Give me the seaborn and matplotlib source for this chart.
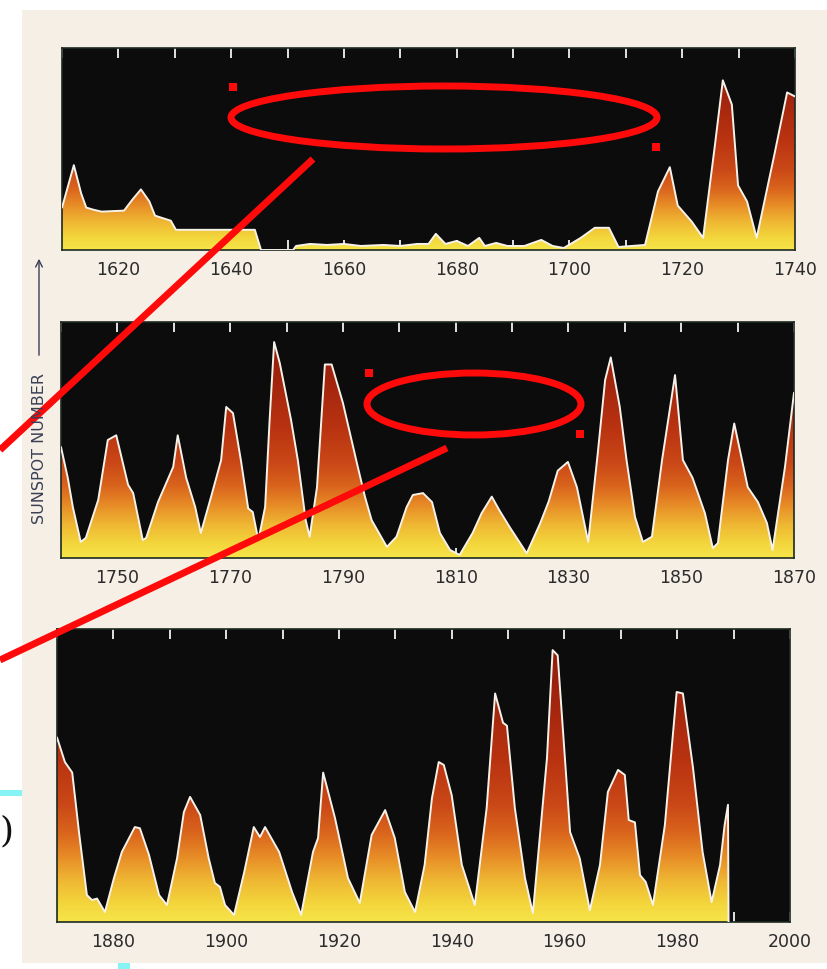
import numpy as np
import matplotlib
matplotlib.use('Agg')
import matplotlib.pyplot as plt
import seaborn as sns
from matplotlib.colors import LinearSegmentedColormap
from matplotlib.patches import Ellipse, Rectangle, FancyArrowPatch, Polygon

sns.set_theme(style='dark')
plt.rcParams['font.family'] = ['DejaVu Sans']

# Valeurs : hauteur de la courbe en % de la hauteur du panneau
years_1 = [1610, 1611.2, 1612.1, 1613.4, 1614.3, 1615.5, 1617, 1621, 1622.5, 1624,
           1625.5, 1626.5, 1629.3, 1630.2, 1644.2, 1645.3, 1651, 1651.5, 1654, 1657,
           1660, 1663, 1667, 1670, 1673, 1675, 1676.3, 1678, 1680, 1682,
           1684, 1685, 1687, 1689, 1692, 1695, 1697, 1699, 1702, 1704.5,
           1707, 1708.7, 1713.4, 1715.7, 1717.8, 1719.2, 1721.7, 1723.7, 1725.8, 1727.2,
           1728.8, 1729.9, 1731.5, 1733.2, 1736.4, 1738.6, 1740]
spots_1 = [21, 33, 42, 28, 21, 20, 19, 19.5, 25, 30,
           24, 17, 14.5, 10, 10, 0, 0, 2, 3, 2.5,
           3, 2, 2.5, 2, 3, 3, 8, 3, 4.5, 2,
           6, 2, 3.5, 2, 2, 5, 2, 1, 6, 11,
           11, 1.5, 2.5, 29, 41, 22, 14, 6, 52, 84,
           72, 32, 24, 6, 48, 78, 76]

years_2 = [1740, 1741.2, 1742.1, 1743.5, 1744.4, 1746.6, 1748.3, 1749.8, 1751, 1751.9,
           1752.8, 1754.5, 1755.1, 1757.2, 1759.9, 1760.7, 1762.2, 1763.8, 1764.8, 1766.6,
           1768.4, 1769.3, 1770.5, 1771.9, 1773.2, 1774, 1775, 1776.2, 1777, 1777.8,
           1778.8, 1780.8, 1782, 1783.4, 1784.1, 1785.4, 1786.8, 1788, 1790, 1792.5,
           1793.9, 1795.1, 1797.8, 1799.5, 1801.3, 1802.4, 1804.2, 1805.8, 1807.2, 1809,
           1810.7, 1813, 1814.6, 1816.4, 1817.8, 1819.6, 1822.6, 1825, 1826.5, 1828.1,
           1829.9, 1831.5, 1833.5, 1835.2, 1836.5, 1837.5, 1839.1, 1840.3, 1841.8, 1843.2,
           1844.8, 1846.6, 1848.9, 1850.3, 1852, 1854.2, 1855.6, 1856.5, 1858.3, 1859.4,
           1861.8, 1863.6, 1865.2, 1866.2, 1868.4, 1870]
spots_2 = [47, 34, 21.6, 6.8, 8.5, 24.6, 50, 52, 40, 31,
           27.5, 7.6, 8.5, 23.7, 38.6, 52, 34, 21.6, 10.6, 25.8,
           41.5, 64, 61.4, 41.5, 21, 19.5, 7.6, 21.6, 58.5, 91.5,
           82.6, 58.5, 41.5, 16, 9, 30, 82, 82, 65.7, 40,
           26, 16, 4.7, 9, 21.6, 26.7, 27.5, 23.7, 10.6, 3.4,
           1.3, 10.6, 19, 26, 20, 13, 2, 14.8, 24, 37,
           40.7, 30, 6.8, 44.5, 75.4, 85, 64, 41.5, 17.4, 6.8,
           9, 41.5, 77.5, 41.5, 34, 19, 4.2, 6.3, 41.5, 57,
           30, 23.7, 14.8, 3.4, 38.6, 70]

years_3 = [1870, 1871.4, 1872.7, 1873.9, 1875.3, 1876.2, 1877.1, 1878.5, 1880.1, 1881.5,
           1883.8, 1884.7, 1886.3, 1888.1, 1889.5, 1891.3, 1892.5, 1893.6, 1895.4, 1896.9,
           1898, 1898.9, 1899.8, 1901.4, 1903.2, 1904.9, 1906, 1906.9, 1909.4, 1911.7,
           1913.3, 1915.4, 1916.3, 1917.2, 1919.3, 1921.6, 1923.7, 1925.8, 1928.2, 1929.9,
           1931.7, 1933.5, 1935.2, 1936.5, 1937.7, 1938.6, 1940, 1941.8, 1944.1, 1946.2,
           1947.7, 1949.1, 1949.8, 1951.2, 1953, 1954.4, 1956.9, 1957.9, 1958.8, 1961,
           1962.7, 1964.5, 1966.3, 1967.7, 1969.5, 1970.7, 1971.4, 1972.5, 1973.4, 1974.4,
           1975.7, 1977.8, 1979.9, 1981, 1982.8, 1984.5, 1986.1, 1987.6, 1988.4, 1989,
           1989.1]
spots_3 = [63, 54.6, 51, 30.7, 9.2, 7.5, 8, 3.4, 15, 23.9,
           32.4, 32, 23, 9.2, 5.8, 21.8, 37.5, 42.7, 36.5, 21.8,
           13.3, 12, 5.8, 2.4, 17, 32.4, 29, 32.4, 23.9, 10.2,
           2.4, 23.9, 28.7, 51, 35.5, 15, 6.5, 29.7, 38.2, 28.7,
           10.2, 3.4, 19.5, 42.3, 54.6, 53.6, 43.3, 19.5, 5.8, 38.9,
           78, 68, 67, 38.9, 15, 3, 56, 92.8, 91, 30.7,
           21.8, 4, 19.5, 44.4, 51.9, 50.2, 34.8, 34, 16, 13.7,
           5.8, 33, 78.5, 78, 52.6, 23.9, 6.8, 19.5, 33, 40,
           0]

panels = [
    (years_1, spots_1, (1610, 1740), 1620),
    (years_2, spots_2, (1740, 1870), 1750),
    (years_3, spots_3, (1870, 2000), 1880),
]

W, H = 828, 969
# position des panneaux en pixels : gauche, haut, droite, bas
boxes = [(62, 48, 795, 250), (61, 322, 794, 558), (57, 629, 790, 922)]

flame = LinearSegmentedColormap.from_list('flame', [
    (0.00, '#f6e54a'), (0.06, '#f3d63c'), (0.14, '#efb733'), (0.22, '#e78d27'),
    (0.30, '#da661d'), (0.40, '#ca4817'), (0.55, '#b93311'), (0.75, '#a3250e'),
    (1.00, '#8a1a0c')])

fig = plt.figure(figsize=(W / 100, H / 100), dpi=100, facecolor='#f5efe5')

# fond : bandes blanches et bouts de cyan de la diapo
bg = fig.add_axes([0, 0, 1, 1], zorder=-10)
bg.set_xlim(0, W)
bg.set_ylim(H, 0)
bg.axis('off')
bg.add_patch(Rectangle((0, 0), 22, H, color='white', lw=0))
bg.add_patch(Rectangle((0, 0), W, 10, color='white', lw=0))
bg.add_patch(Rectangle((0, 963), W, 6, color='white', lw=0))
bg.add_patch(Rectangle((0, 790), 22, 6, color='#86f4f4', lw=0))
bg.add_patch(Rectangle((118, 963), 12, 6, color='#86f4f4', lw=0))
bg.text(7, 831, ')', ha='center', va='center', fontsize=26, color='#111111',
        family='DejaVu Serif')

for (yrs, vals, (x0, x1), lab0), (l, t, r, b) in zip(panels, boxes):
    ax = fig.add_axes([l / W, 1 - b / H, (r - l) / W, (b - t) / H])
    ax.set_facecolor('#0b0c0b')
    ax.set_xlim(x0, x1)
    ax.set_ylim(0, 100)

    # dégradé jaune -> rouge découpé sous la courbe
    grad = np.linspace(0, 1, 256).reshape(-1, 1)
    im = ax.imshow(grad, cmap=flame, origin='lower', aspect='auto',
                   extent=[x0, x1, 0, 100], zorder=1, interpolation='bilinear')
    verts = [(yrs[0], 0)] + list(zip(yrs, vals)) + [(yrs[-1], 0)]
    clip = Polygon(verts, closed=True, transform=ax.transData, facecolor='none', edgecolor='none')
    ax.add_patch(clip)
    im.set_clip_path(clip)

    sns.lineplot(x=yrs, y=vals, ax=ax, color='#f6f2ea', lw=1.4, sort=False,
                 estimator=None, zorder=3)

    ticks = list(range(x0, x1 + 1, 10))
    ax.set_xticks(ticks)
    ax.set_xticklabels([str(tk) if (tk - lab0) % 20 == 0 else '' for tk in ticks])
    ax.set_yticks([])
    ax.tick_params(axis='x', which='both', direction='in', top=True, bottom=True,
                   length=7, width=1.3, color='#f2f2f2', labelcolor='#2b2b2b',
                   labelsize=12.5, pad=8)
    ax.grid(False)
    ax.set_xlabel('')
    ax.set_ylabel('')
    for sp in ax.spines.values():
        sp.set_color('#1d2a20')
        sp.set_linewidth(1.2)

# annotations rouges et titre de l'axe y
ov = fig.add_axes([0, 0, 1, 1], zorder=10)
ov.set_xlim(0, W)
ov.set_ylim(H, 0)
ov.axis('off')
ov.patch.set_alpha(0)

ov.text(40, 449, 'SUNSPOT NUMBER', rotation=90, ha='center', va='center',
        fontsize=11.5, color='#3a3f55')
ov.add_patch(FancyArrowPatch((39, 358), (39, 256), arrowstyle='->', mutation_scale=12,
                             lw=1.0, color='#3a3f55'))

red = '#ff0a0a'
ov.add_patch(Ellipse((444, 117.5), 426, 63, fill=False, ec=red, lw=5))
ov.add_patch(Ellipse((474, 404), 214, 62, fill=False, ec=red, lw=5))
for cx, cy in [(233, 87), (656, 147), (369, 373), (580, 434)]:
    ov.add_patch(Rectangle((cx - 4, cy - 4), 8, 8, color=red, lw=0))
ov.plot([313, 0], [159, 450], color=red, lw=5, solid_capstyle='butt')
ov.plot([447, 0], [448, 660], color=red, lw=5, solid_capstyle='butt')

fig.savefig('out.png', dpi=100, facecolor=fig.get_facecolor())
